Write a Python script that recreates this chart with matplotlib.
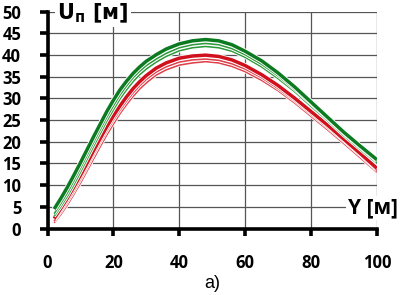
import matplotlib
matplotlib.use("Agg")
import matplotlib.pyplot as plt
import matplotlib.patheffects as pe

x_vals = [2, 4, 6, 8, 10, 12, 14, 16, 18, 20, 22, 24, 26, 28, 30, 33, 36, 40, 44, 48, 52, 56, 60, 65, 70, 75, 80, 85, 90, 95, 100]

green_main = [4.5, 6.9, 9.5, 12.3, 15.2, 18.2, 21.2, 24.1, 27.0, 29.6, 32.0, 34.0, 35.8, 37.3, 38.6, 40.1, 41.4, 42.6, 43.3, 43.6, 43.3, 42.4, 40.9, 38.7, 35.9, 32.7, 29.2, 25.7, 22.2, 19.0, 15.9]
green_thin1 = [3.4, 5.7, 8.2, 11.0, 13.9, 16.9, 19.9, 22.8, 25.7, 28.3, 30.8, 32.9, 34.8, 36.3, 37.6, 39.1, 40.4, 41.7, 42.4, 42.7, 42.4, 41.5, 40.1, 37.9, 35.2, 32.1, 28.7, 25.3, 21.8, 18.6, 15.5]
green_thin2 = [2.8, 5.0, 7.4, 10.1, 13.0, 16.0, 19.0, 21.9, 24.8, 27.4, 29.9, 32.0, 33.9, 35.5, 36.8, 38.4, 39.7, 41.0, 41.7, 42.0, 41.7, 40.9, 39.5, 37.3, 34.6, 31.6, 28.2, 24.9, 21.4, 18.2, 15.1]

red_main = [2.3, 4.6, 7.0, 9.6, 12.3, 15.1, 18.0, 20.8, 23.5, 26.0, 28.3, 30.4, 32.3, 33.9, 35.3, 37.0, 38.2, 39.3, 39.8, 40.0, 39.7, 38.9, 37.6, 35.5, 33.0, 30.1, 27.0, 23.9, 20.6, 17.3, 13.9]
red_thin1 = [1.7, 3.8, 6.1, 8.6, 11.3, 14.1, 17.0, 19.8, 22.5, 25.0, 27.3, 29.4, 31.3, 33.0, 34.4, 36.1, 37.3, 38.4, 38.9, 39.1, 38.8, 38.0, 36.8, 34.8, 32.3, 29.5, 26.4, 23.3, 20.1, 16.8, 13.4]
red_thin2 = [1.3, 3.2, 5.4, 7.9, 10.5, 13.3, 16.1, 18.9, 21.6, 24.1, 26.5, 28.6, 30.5, 32.2, 33.6, 35.4, 36.6, 37.7, 38.2, 38.5, 38.2, 37.4, 36.2, 34.2, 31.8, 29.0, 25.9, 22.8, 19.6, 16.3, 13.0]

x_ticks = [0, 20, 40, 60, 80, 100]
y_ticks = [0, 5, 10, 15, 20, 25, 30, 35, 40, 45, 50]

fig = plt.figure(figsize=(4.03, 2.95), dpi=100)
ax = fig.add_axes([0.118, 0.2254, 0.817, 0.7346])
ax.set_xlim(0, 100)
ax.set_ylim(0, 50)

GREEN = "#0b7a20"
GREEN_T = "#2f9a3c"
RED = "#d0101c"
RED_T = "#e0404a"

def draw(y, color, lw, z):
    ax.plot(x_vals, y, color=color, lw=lw, zorder=z, solid_capstyle="butt",
            solid_joinstyle="round",
            path_effects=[pe.Stroke(linewidth=lw + 1.3, foreground="white"), pe.Normal()])

draw(red_thin2, RED_T, 1.15, 3)
draw(red_thin1, RED_T, 1.15, 3.1)
draw(red_main, RED, 2.5, 3.2)
draw(green_thin2, GREEN_T, 1.15, 3.3)
draw(green_thin1, GREEN_T, 1.15, 3.4)
draw(green_main, GREEN, 2.5, 3.5)

ax.set_xticks(x_ticks)
ax.set_yticks(y_ticks)
ax.grid(True, color="#555555", lw=0.9)
ax.set_axisbelow(True)
for s in ["top", "right"]:
    ax.spines[s].set_visible(False)
for s in ["left", "bottom"]:
    ax.spines[s].set_linewidth(2.6)
    ax.spines[s].set_color("black")
    ax.spines[s].set_zorder(5)

ax.tick_params(axis="y", direction="out", length=6, width=2.6, pad=13)
ax.tick_params(axis="x", direction="out", length=5, width=2.6, pad=13)
for lab in ax.get_xticklabels() + ax.get_yticklabels():
    lab.set_fontfamily("Open Sans")
    lab.set_fontweight("bold")
    lab.set_fontsize(12)

ax.text(3, 49.6, "U$_{\\mathbf{п}}$ [м]", fontsize=15, fontfamily="DejaVu Sans",
        fontweight="bold", ha="left", va="center", zorder=6,
        bbox=dict(facecolor="white", edgecolor="none", pad=1.5))
ax.text(91.2, 4.8, "Y [м]", fontsize=15, fontfamily="Open Sans", fontweight="bold",
        ha="left", va="center", zorder=6, clip_on=False,
        bbox=dict(facecolor="white", edgecolor="none", pad=1.0))

fig.text(212 / 403, 1 - 284 / 295, "a)", fontsize=13, fontfamily="Liberation Sans",
         ha="center", va="center")

fig.savefig("out.png", dpi=100)
